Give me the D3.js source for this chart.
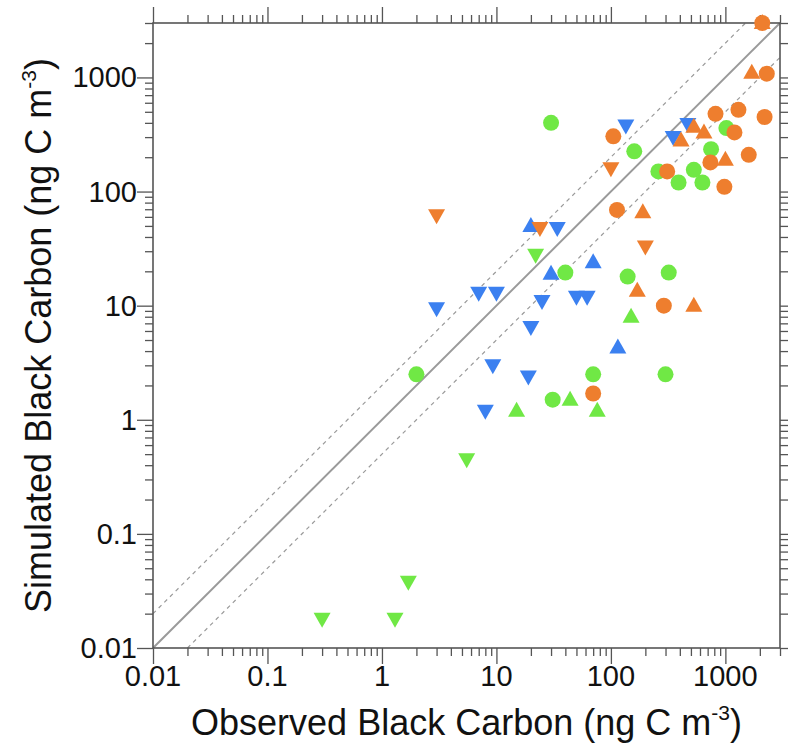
<!DOCTYPE html>
<html lang="en">
<head>
    <meta charset="UTF-8">
    <title>Black Carbon</title>
    <style>
        body { margin: 0; background: #fff; }
        text { font-family: "Liberation Sans", Arial, sans-serif; fill: #111; }
    </style>
</head>
<body>
    <div class="container"></div>
    <script src="https://cdn.jsdelivr.net/npm/d3@7"></script>
    <script>
        // Data: [observed, simulated] pairs, grouped by colour and marker
        const blueUp = [[20, 50], [30, 19], [70, 24], [115, 4.3]]
        const blueDown = [[3, 9.5], [7, 13], [10, 13], [25, 11], [50, 12], [62, 12], [20, 6.5],
                          [9.3, 3], [19, 2.4], [8, 1.2], [34, 48], [135, 380], [350, 300], [470, 390]]
        const greenCircle = [[30, 400], [160, 225], [1020, 360], [750, 235], [260, 150], [530, 155],
                             [390, 120], [630, 120], [40, 19.5], [140, 18], [320, 19.5], [300, 2.5],
                             [70, 2.5], [31, 1.5], [2, 2.5]]
        const greenUp = [[150, 8], [44, 1.5], [76, 1.2], [15, 1.2]]
        const greenDown = [[22, 28], [5.5, 0.45], [1.7, 0.038], [0.3, 0.018], [1.3, 0.018]]
        const orangeCircle = [[2100, 3000], [2300, 1080], [2200, 450], [820, 480], [1300, 520], [105, 305],
                              [1200, 330], [1600, 210], [740, 180], [980, 110], [310, 150], [113, 69],
                              [290, 10], [70, 1.7]]
        const orangeUp = [[2100, 3000], [1700, 1100], [410, 280], [530, 370], [650, 330], [1000, 190],
                          [190, 66], [170, 13.5], [530, 10]]
        const orangeDown = [[3, 62], [24, 48], [100, 160], [200, 33]]

        const majorTicks = [0.01, 0.1, 1, 10, 100, 1000]
        const tickLabels = ["0.01", "0.1", "1", "10", "100", "1000"]
        const domain = [0.01, 3000]

        // Setup
        const width = 788
        const height = 751
        const plotLeft = 153, plotRight = 780, plotTop = 23, plotBottom = 648

        const svg = d3.select('.container')
                    .append("svg")
                    .attr("width", width)
                    .attr("height", height)

        const xScale = d3.scaleLog().domain(domain).range([plotLeft, plotRight])
        const yScale = d3.scaleLog().domain(domain).range([plotBottom, plotTop])

        // minor ticks 2..9 in each decade
        const minorTicks = []
        for (let p = -2; p <= 3; p++) {
            for (let m = 2; m <= 9; m++) {
                const v = m * Math.pow(10, p)
                if (v <= 3000) minorTicks.push(v)
            }
        }

        const axisColor = "#555"
        function styleAxis(g) {
            g.select(".domain").remove()
            g.selectAll(".tick line").attr("stroke", axisColor).attr("stroke-width", 1.3)
            g.selectAll("text").remove()
        }

        // ticks on all four sides, pointing out
        const axes = svg.append("g").attr("class", "axes")
        axes.append("g").attr("transform", `translate(0,${plotBottom})`)
            .call(d3.axisBottom(xScale).tickValues(majorTicks).tickSize(16)).call(styleAxis)
        axes.append("g").attr("transform", `translate(0,${plotBottom})`)
            .call(d3.axisBottom(xScale).tickValues(minorTicks).tickSize(8)).call(styleAxis)
        axes.append("g").attr("transform", `translate(0,${plotTop})`)
            .call(d3.axisTop(xScale).tickValues(majorTicks).tickSize(16)).call(styleAxis)
        axes.append("g").attr("transform", `translate(0,${plotTop})`)
            .call(d3.axisTop(xScale).tickValues(minorTicks).tickSize(8)).call(styleAxis)
        axes.append("g").attr("transform", `translate(${plotLeft},0)`)
            .call(d3.axisLeft(yScale).tickValues(majorTicks).tickSize(16)).call(styleAxis)
        axes.append("g").attr("transform", `translate(${plotLeft},0)`)
            .call(d3.axisLeft(yScale).tickValues(minorTicks).tickSize(8)).call(styleAxis)
        axes.append("g").attr("transform", `translate(${plotRight},0)`)
            .call(d3.axisRight(yScale).tickValues(majorTicks).tickSize(16)).call(styleAxis)
        axes.append("g").attr("transform", `translate(${plotRight},0)`)
            .call(d3.axisRight(yScale).tickValues(minorTicks).tickSize(8)).call(styleAxis)

        // tick labels
        svg.append("g").selectAll("text").data(majorTicks).join("text")
            .attr("x", d => xScale(d)).attr("y", plotBottom + 38)
            .attr("text-anchor", "middle").attr("font-size", 29)
            .text((d, i) => tickLabels[i])
        svg.append("g").selectAll("text").data(majorTicks).join("text")
            .attr("x", plotLeft - 16).attr("y", d => yScale(d) + 10)
            .attr("text-anchor", "end").attr("font-size", 29)
            .text((d, i) => tickLabels[i])

        // reference lines 1:1, 2:1, 1:2
        const lines = svg.append("g")
        lines.append("line")
            .attr("x1", xScale(0.01)).attr("y1", yScale(0.01))
            .attr("x2", xScale(3000)).attr("y2", yScale(3000))
            .attr("stroke", "#9a9a9a").attr("stroke-width", 2)
        lines.append("line")
            .attr("x1", xScale(0.01)).attr("y1", yScale(0.02))
            .attr("x2", xScale(1500)).attr("y2", yScale(3000))
            .attr("stroke", "#9a9a9a").attr("stroke-width", 1.2).attr("stroke-dasharray", "4,4")
        lines.append("line")
            .attr("x1", xScale(0.02)).attr("y1", yScale(0.01))
            .attr("x2", xScale(3000)).attr("y2", yScale(1500))
            .attr("stroke", "#9a9a9a").attr("stroke-width", 1.2).attr("stroke-dasharray", "4,4")

        // frame
        svg.append("rect")
            .attr("x", plotLeft).attr("y", plotTop)
            .attr("width", plotRight - plotLeft).attr("height", plotBottom - plotTop)
            .attr("fill", "none").attr("stroke", axisColor).attr("stroke-width", 1.6)

        // markers
        const blue = "#3b80f0", green = "#70e845", orange = "#ee7e2e"
        const upPath = "M0,-9L8.5,6L-8.5,6Z"
        const downPath = "M0,9L8.5,-6L-8.5,-6Z"
        const marks = svg.append("g").attr("class", "marks")

        function drawGroup(data, shape, color) {
            const g = marks.append("g")
            if (shape === "circle") {
                g.selectAll("circle").data(data).join("circle")
                    .attr("cx", d => xScale(d[0])).attr("cy", d => yScale(d[1]))
                    .attr("r", 8).attr("fill", color)
            } else {
                g.selectAll("path").data(data).join("path")
                    .attr("d", shape === "up" ? upPath : downPath)
                    .attr("transform", d => `translate(${xScale(d[0])},${yScale(d[1])})`)
                    .attr("fill", color)
            }
        }
        drawGroup(blueUp, "up", blue)
        drawGroup(blueDown, "down", blue)
        drawGroup(greenCircle, "circle", green)
        drawGroup(greenUp, "up", green)
        drawGroup(greenDown, "down", green)
        drawGroup(orangeCircle, "circle", orange)
        drawGroup(orangeUp, "up", orange)
        drawGroup(orangeDown, "down", orange)

        // axis titles
        const xTitle = svg.append("text")
            .attr("x", (plotLeft + plotRight) / 2).attr("y", 735)
            .attr("text-anchor", "middle").attr("font-size", 36)
        xTitle.append("tspan").text("Observed Black Carbon (ng C m")
        xTitle.append("tspan").attr("font-size", 21).attr("dy", -15).text("-3")
        xTitle.append("tspan").attr("dy", 15).text(")")

        const yTitle = svg.append("text")
            .attr("transform", `translate(51,${(plotTop + plotBottom) / 2}) rotate(-90)`)
            .attr("text-anchor", "middle").attr("font-size", 36)
        yTitle.append("tspan").text("Simulated Black Carbon (ng C m")
        yTitle.append("tspan").attr("font-size", 21).attr("dy", -15).text("-3")
        yTitle.append("tspan").attr("dy", 15).text(")")
    </script>
</body>
</html>
